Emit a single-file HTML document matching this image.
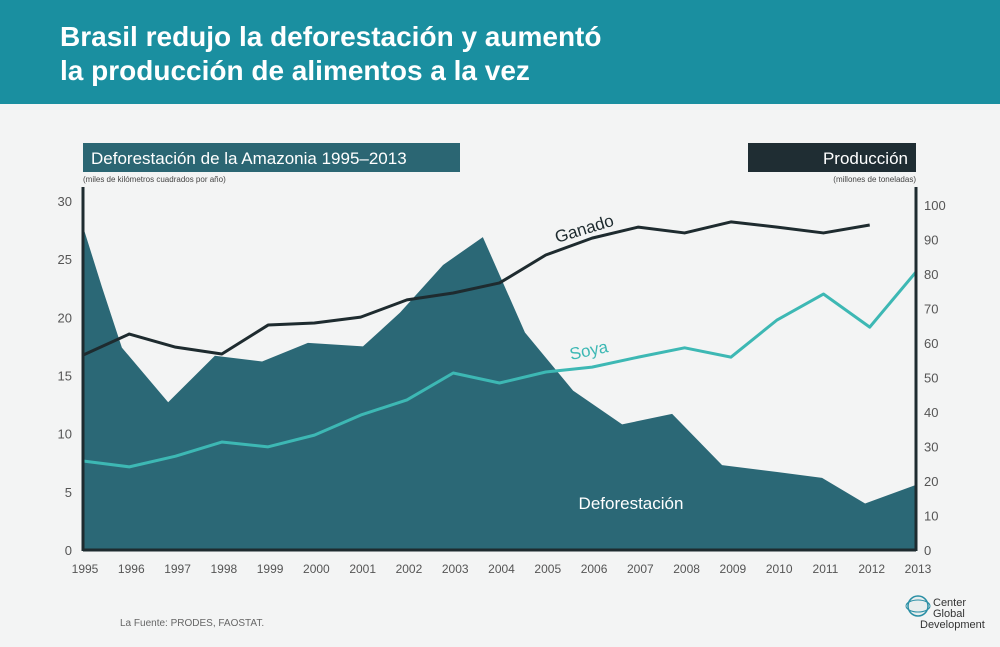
<!DOCTYPE html>
<html><head><meta charset="utf-8"><style>
body{margin:0;width:1000px;height:647px;background:#f3f4f4;font-family:"Liberation Sans",sans-serif;overflow:hidden;position:relative}
.hdr{position:absolute;left:0;top:0;width:1000px;height:104px;background:#1a8fa0}
.hdr h1{margin:0;position:absolute;left:60px;top:20px;color:#fff;font-size:28px;font-weight:bold;line-height:34px}
</style></head><body>
<div class="hdr"><h1>Brasil redujo la deforestación y aumentó<br>la producción de alimentos a la vez</h1></div>
<svg id="c" width="1000" height="647" style="position:absolute;left:0;top:0" font-family="Liberation Sans, sans-serif"></svg>
<script>
const years=[1995,1996,1997,1998,1999,2000,2001,2002,2003,2004,2005,2006,2007,2008,2009,2010,2011,2012,2013];
const defT=[1995,1995.41,1995.84,1996.84,1997.85,1998.87,1999.86,2001.05,2001.85,2002.78,2003.64,2004.55,2005.59,2006.65,2007.73,2008.81,2010.0,2010.97,2011.9,2013];
const defV=[27.8,22.6,17.4,12.7,16.7,16.2,17.8,17.5,20.4,24.5,26.9,18.7,13.7,10.8,11.7,7.3,6.7,6.2,4.0,5.6];
const ganadoYears=[1995,1996,1997,1998,1999,2000,2001,2002,2003,2004,2005,2006,2007,2008,2009,2010,2011,2012];
const ganadoV=[56.5,62.6,58.8,56.8,65.2,65.8,67.5,72.5,74.5,77.4,85.5,90.4,93.6,91.9,95.1,93.6,91.9,94.2];
const soyaV=[25.8,24.1,27.2,31.3,29.9,33.3,39.1,43.5,51.3,48.4,51.6,53.0,55.9,58.6,55.9,66.7,74.2,64.6,80.6];
const leftTicks=[0,5,10,15,20,25,30];
const rightTicks=[0,10,20,30,40,50,60,70,80,90,100];
const X0=83,X1=916,Y0=550;
const x=t=>X0+(t-1995)*(X1-X0)/18;
const yl=v=>Y0-v*(Y0-201)/30;
const yr=v=>Y0-v*(Y0-205)/100;
const svg=document.getElementById('c');
const NS='http://www.w3.org/2000/svg';
function mk(tag,attrs,parent){const e=document.createElementNS(NS,tag);for(const k in attrs)e.setAttribute(k,attrs[k]);(parent||svg).appendChild(e);return e;}
let r=mk('rect',{x:83,y:143,width:377,height:29,fill:'#2b6673'});


let t=mk('text',{x:91,y:164,fill:'#fff','font-size':17});t.textContent='Deforestación de la Amazonia 1995–2013';


r=mk('rect',{x:748,y:143,width:168,height:29,fill:'#1f2d33'});


t=mk('text',{x:908,y:164,fill:'#fff','font-size':17,'text-anchor':'end'});t.textContent='Producción';


t=mk('text',{x:83,y:182,fill:'#444','font-size':8});t.textContent='(miles de kilómetros cuadrados por año)';


t=mk('text',{x:916,y:182,fill:'#444','font-size':8,'text-anchor':'end'});t.textContent='(millones de toneladas)';


let d='M'+x(defT[0])+','+Y0;
defT.forEach((tt,i)=>{d+=' L'+x(tt)+','+yl(defV[i]);});
d+=' L'+x(defT[defT.length-1])+','+Y0+' Z';
let p=mk('path',{d:d,fill:'#2b6876'});


t=mk('text',{x:631,y:509,fill:'#fff','font-size':17,'text-anchor':'middle'});t.textContent='Deforestación';


p=mk('polyline',{points:years.map((yy,i)=>x(yy)+','+yr(soyaV[i])).join(' '),fill:'none',stroke:'#3db8b4','stroke-width':3,'stroke-linejoin':'round'});


p=mk('polyline',{points:ganadoYears.map((yy,i)=>x(yy)+','+yr(ganadoV[i])).join(' '),fill:'none',stroke:'#1e2b2f','stroke-width':3,'stroke-linejoin':'round'});


t=mk('text',{x:557,y:243,fill:'#1e2b2f','font-size':17,transform:'rotate(-17 557 243)'});t.textContent='Ganado';


t=mk('text',{x:571,y:360,fill:'#3db8b4','font-size':17,transform:'rotate(-12 571 360)'});t.textContent='Soya';


let a=mk('line',{x1:X0,y1:187,x2:X0,y2:Y0+1,stroke:'#1e2b2f','stroke-width':3});


a=mk('line',{x1:X1,y1:187,x2:X1,y2:Y0+1,stroke:'#1e2b2f','stroke-width':3});


a=mk('line',{x1:X0,y1:Y0,x2:X1,y2:Y0,stroke:'#1e2b2f','stroke-width':3});


leftTicks.forEach(v=>{const e=mk('text',{x:72,y:yl(v)+5,fill:'#555','font-size':13,'text-anchor':'end'});e.textContent=v;

});
rightTicks.forEach(v=>{const e=mk('text',{x:924,y:yr(v)+5,fill:'#555','font-size':13});e.textContent=v;

});
years.forEach(yy=>{const e=mk('text',{x:x(yy)+2,y:573,fill:'#555','font-size':12,'text-anchor':'middle'});e.textContent=yy;

});
t=mk('text',{x:120,y:626,fill:'#666','font-size':10});t.textContent='La Fuente: PRODES, FAOSTAT.';


let g=mk('g',{});


mk('ellipse',{cx:918,cy:606,rx:10,ry:10,fill:'#e8eeee',stroke:'#2a8fa5','stroke-width':1.5},g);
mk('ellipse',{cx:918,cy:606,rx:12,ry:6,fill:'none',stroke:'#2a8fa5','stroke-width':1},g);
let tx=mk('text',{x:933,y:606,fill:'#333','font-size':11},g);tx.textContent='Center';
tx=mk('text',{x:933,y:617,fill:'#333','font-size':11},g);tx.textContent='Global';
tx=mk('text',{x:920,y:628,fill:'#333','font-size':11},g);tx.textContent='Development';
</script>
</body></html>
